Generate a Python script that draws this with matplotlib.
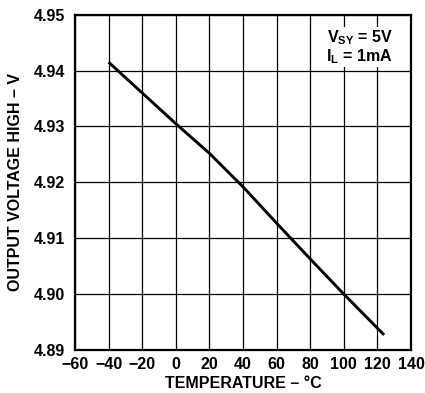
import numpy as np
import matplotlib
matplotlib.use("Agg")
from matplotlib import pyplot as plt

# values
temps = [-40, -20, 0, 20, 40, 60, 80, 100, 124]
vout = [4.9415, 4.9360, 4.9305, 4.9252, 4.9192, 4.9127, 4.9063, 4.9000, 4.8927]

xticks = [-60, -40, -20, 0, 20, 40, 60, 80, 100, 120, 140]
yticks = [4.89, 4.90, 4.91, 4.92, 4.93, 4.94, 4.95]

plt.rcParams['font.family'] = ['Liberation Sans', 'DejaVu Sans']
plt.rcParams['font.weight'] = 'bold'
plt.rcParams['mathtext.fontset'] = 'custom'
plt.rcParams['mathtext.rm'] = 'Liberation Sans:bold'
plt.rcParams['mathtext.bf'] = 'Liberation Sans:bold'

fig = plt.figure(figsize=(4.25, 3.93), dpi=100)
ax = fig.add_axes([75 / 425, 43 / 393, 336 / 425, 335.3 / 393])

ax.plot(temps, vout, color='black', lw=2.1, solid_capstyle='butt')

ax.set_xlim(-60, 140)
ax.set_ylim(4.89, 4.95)
ax.set_xticks(xticks)
ax.set_yticks(yticks)
ax.set_xticklabels(['\u2212%d' % -t if t < 0 else '%d' % t for t in xticks])
ax.set_yticklabels(['%.2f' % v for v in yticks])
ax.grid(True, color='black', lw=0.9)
ax.tick_params(length=0, labelsize=11.5, pad=5)
ax.tick_params(axis='y', pad=7)
for s in ax.spines.values():
    s.set_linewidth(1.6)

ax.set_xlabel('TEMPERATURE \u2013 \u00b0C', fontsize=11.5, fontweight='bold', labelpad=3)
ax.set_ylabel('OUTPUT VOLTAGE HIGH \u2013 V', fontsize=11.5, fontweight='bold', labelpad=8)

ax.text(0.945, 0.96, '$\\mathrm{V_{SY}}$ = 5V\n$\\mathrm{I_L}$ = 1mA', transform=ax.transAxes,
        ha='right', va='top', fontsize=11.5, fontweight='bold', linespacing=1.0,
        bbox=dict(facecolor='white', edgecolor='none', pad=1))

fig.savefig('out.png', dpi=100)
